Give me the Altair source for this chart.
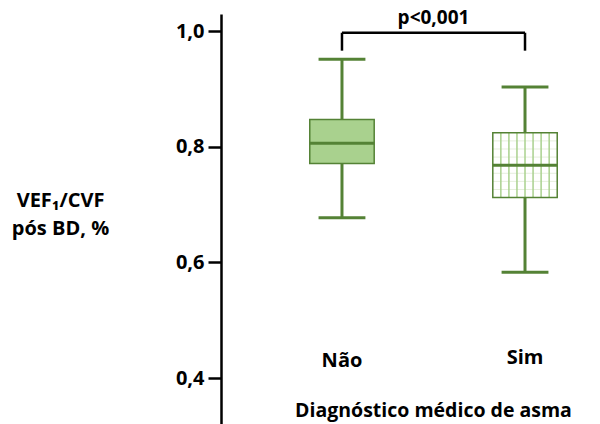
import altair as alt
import pandas as pd

# ---- data ----
groups = ["Não", "Sim"]
positions = [1, 2]
whisk_lo = [0.677, 0.583]
q1 = [0.771, 0.712]
median = [0.806, 0.768]
q3 = [0.847, 0.824]
whisk_hi = [0.951, 0.903]
fills = ["#a9d18e", "#ffffff"]

y_ticks = [0.4, 0.6, 0.8, 1.0]
p_text = "p<0,001"
x_title = "Diagnóstico médico de asma"
y_title = ["VEF₁/CVF", "pós BD, %"]

GREEN = "#548235"
LIGHT = "#a9d18e"
FONT = "Open Sans"
FS = 20

df = pd.DataFrame({
    "group": groups, "pos": positions, "lo": whisk_lo, "q1": q1,
    "median": median, "q3": q3, "hi": whisk_hi,
})

xs = alt.Scale(domain=[0.339, 2.366])
ys = alt.Scale(domain=[0.3205, 1.0294], nice=False, zero=False)

yaxis = alt.Axis(
    values=y_ticks, title=y_title,
    labelExpr="replace(format(datum.value, '.1f'), '.', ',')",
    grid=False, domainColor="black", domainWidth=2.5,
    tickColor="black", tickWidth=2.5, tickSize=13,
    labelFont=FONT, labelFontSize=FS, labelFontWeight="bold", labelColor="black",
    labelPadding=4,
    titleFont=FONT, titleFontSize=FS, titleFontWeight="bold", titleColor="black",
    titleAngle=0, titleAlign="center", titleBaseline="alphabetic",
    titleX=-161, titleY=192, titleLineHeight=28,
)

X = lambda f: alt.X(f, type="quantitative", scale=xs, axis=None)
Y = lambda f: alt.Y(f, type="quantitative", scale=ys, axis=yaxis)

base = alt.Chart(df)
box_half = 0.176
cap_half = 0.128

whisker = base.mark_rule(color=GREEN, strokeWidth=3).encode(
    x=X("pos"), y=Y("lo"), y2="hi:Q")

caps_base = base.transform_calculate(
    cl=f"datum.pos - {cap_half}", cr=f"datum.pos + {cap_half}")
cap_hi = caps_base.mark_rule(color=GREEN, strokeWidth=3).encode(
    x=X("cl"), x2="cr:Q", y=Y("hi"))
cap_lo = caps_base.mark_rule(color=GREEN, strokeWidth=3).encode(
    x=X("cl"), x2="cr:Q", y=Y("lo"))

box_base = base.transform_calculate(
    bl=f"datum.pos - {box_half}", br=f"datum.pos + {box_half}")
box_fill = box_base.mark_rect(strokeWidth=0).encode(
    x=X("bl"), x2="br:Q", y=Y("q1"), y2="q3:Q",
    fill=alt.Fill("group:N", scale=alt.Scale(domain=groups, range=fills), legend=None))

hatch_v = box_base.transform_filter("datum.group == 'Sim'").transform_calculate(
    k="sequence(1, 8)").transform_flatten(["k"]).transform_calculate(
    hx=f"datum.bl + datum.k * {2 * box_half} / 8").mark_rule(
    color=LIGHT, strokeWidth=1.5).encode(x=X("hx"), y=Y("q1"), y2="q3:Q")

hatch_h = box_base.transform_filter("datum.group == 'Sim'").transform_calculate(
    k="sequence(1, 8)").transform_flatten(["k"]).transform_calculate(
    hy="datum.q1 + datum.k * (datum.q3 - datum.q1) / 8").mark_rule(
    color="#e6efdd", strokeWidth=1).encode(x=X("bl"), x2="br:Q", y=Y("hy"))

box_outline = box_base.mark_rect(fillOpacity=0, stroke=GREEN, strokeWidth=1.5).encode(
    x=X("bl"), x2="br:Q", y=Y("q1"), y2="q3:Q")

med = box_base.mark_rule(color=GREEN, strokeWidth=3).encode(
    x=X("bl"), x2="br:Q", y=Y("median"))

# category labels
lab_df = pd.DataFrame({"pos": positions, "label": groups, "ly": [0.4192, 0.4244]})
labels = alt.Chart(lab_df).mark_text(
    font=FONT, fontSize=FS, fontWeight="bold", color="black", baseline="alphabetic"
).encode(x=X("pos"), y=Y("ly"), text="label:N")

# x title
xt_df = pd.DataFrame({"pos": [1.5], "ty": [0.3328], "t": [x_title]})
xtitle = alt.Chart(xt_df).mark_text(
    font=FONT, fontSize=FS - 0.5, fontWeight="bold", color="black", baseline="alphabetic"
).encode(x=X("pos"), y=Y("ty"), text="t:N")

# significance bracket
br_df = pd.DataFrame({"x1": [positions[0]], "x2": [positions[1]],
                      "top": [0.997], "bot": [0.966]})
br_h = alt.Chart(br_df).mark_rule(color="black", strokeWidth=2.5).encode(
    x=X("x1"), x2="x2:Q", y=Y("top"))
br_l = alt.Chart(br_df).mark_rule(color="black", strokeWidth=2.5).encode(
    x=X("x1"), y=Y("top"), y2="bot:Q")
br_r = alt.Chart(br_df).mark_rule(color="black", strokeWidth=2.5).encode(
    x=X("x2"), y=Y("top"), y2="bot:Q")
p_df = pd.DataFrame({"pos": [1.5], "py": [1.012], "t": [p_text]})
ptext = alt.Chart(p_df).mark_text(
    font=FONT, fontSize=FS - 1, fontWeight="bold", color="black", baseline="alphabetic"
).encode(x=X("pos"), y=Y("py"), text="t:N")

chart = alt.layer(
    whisker, cap_hi, cap_lo, box_fill, hatch_h, hatch_v, box_outline, med,
    labels, xtitle, br_h, br_l, br_r, ptext
).properties(
    width=371, height=410,
    background="white",
    autosize=alt.AutoSizeParams(type="none"),
    padding={"left": 213, "top": 6, "right": 0, "bottom": 4},
).configure_view(strokeWidth=0, stroke="transparent")

chart.save("out.html", embed_options={"renderer": "svg", "actions": False})
